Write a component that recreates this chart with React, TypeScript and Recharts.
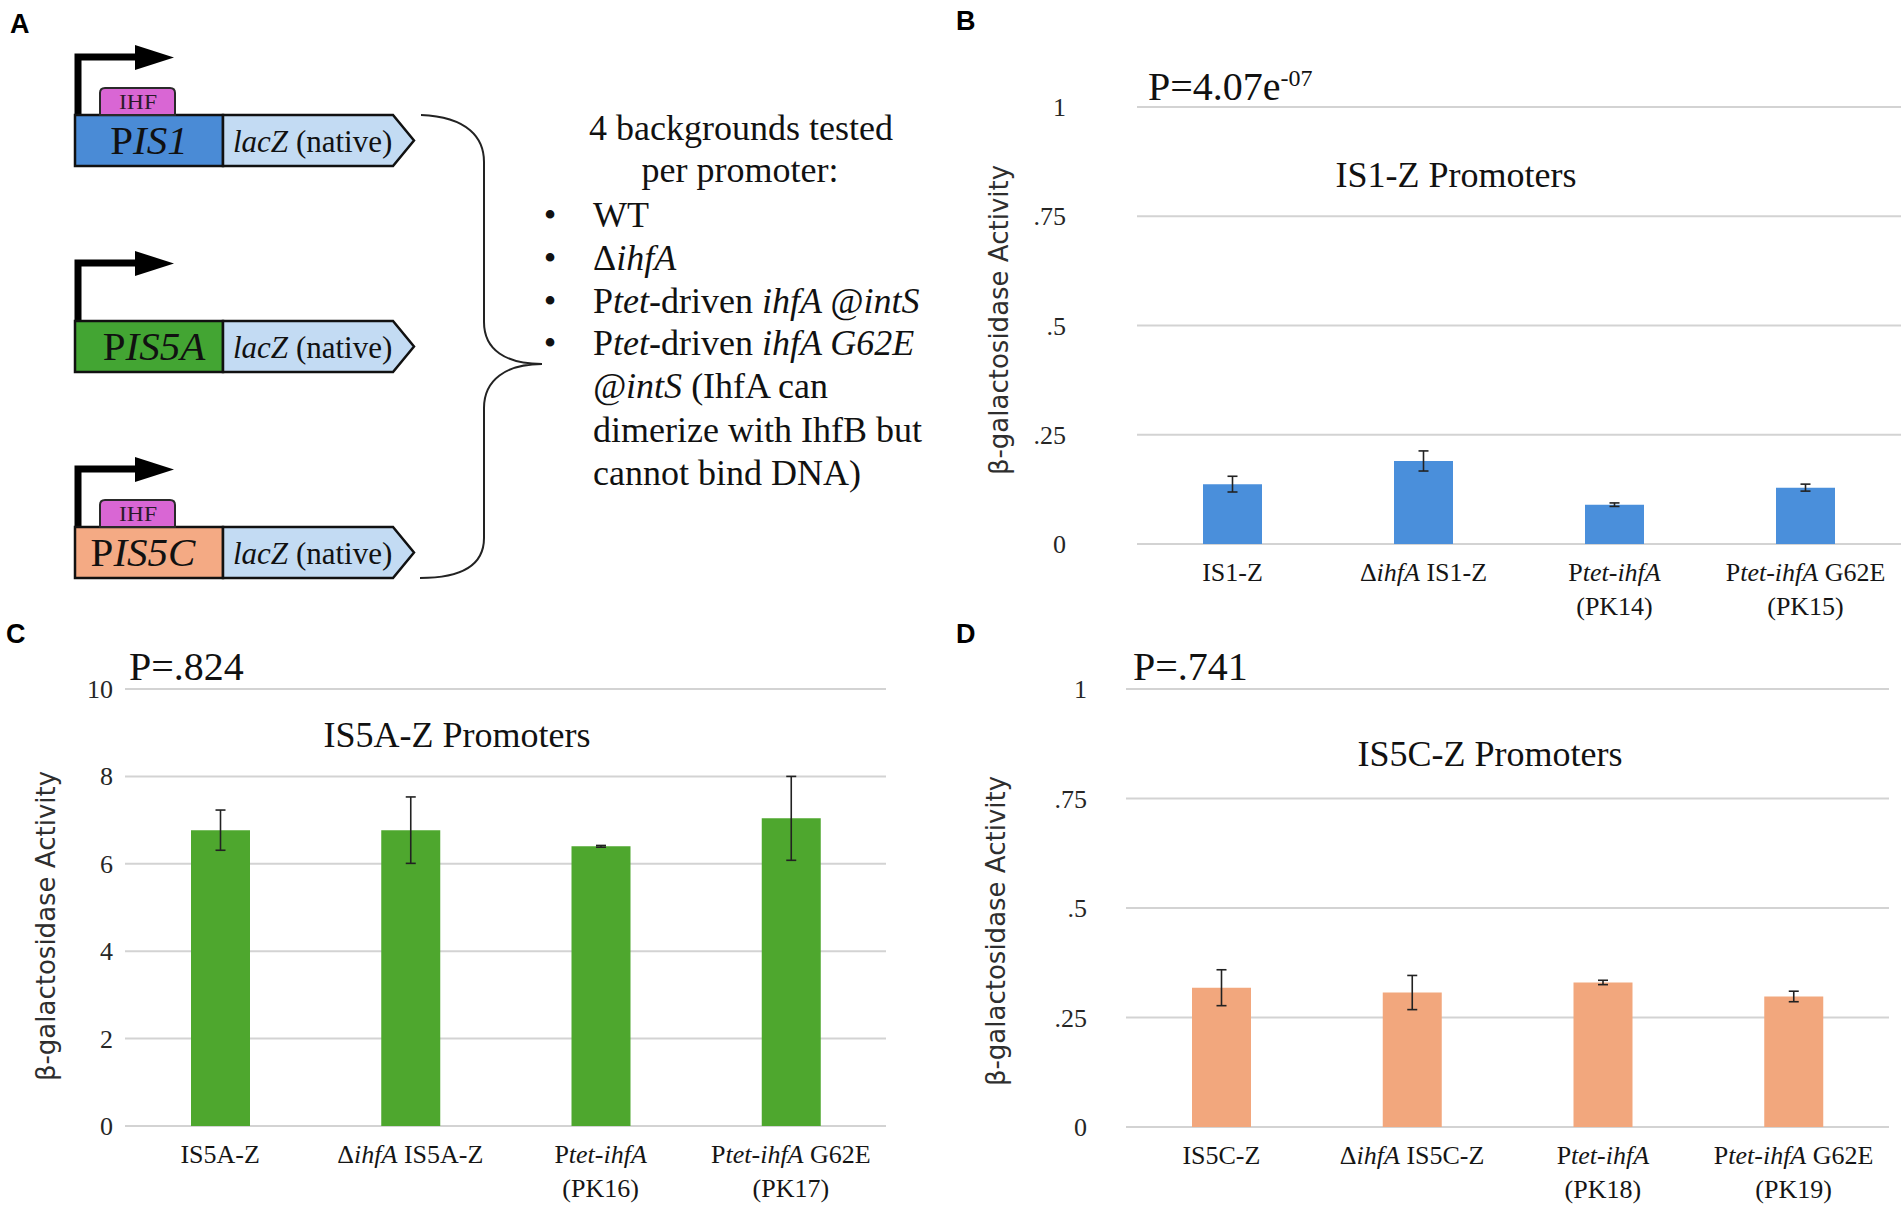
import React from 'react';
import { BarChart, Bar, XAxis, YAxis, CartesianGrid, ErrorBar } from 'recharts';

const SERIF = '"Liberation Serif", "Times New Roman", serif';
const SANS = '"DejaVu Sans", Verdana, sans-serif';
const BOLD_SANS = '"Liberation Sans", Arial, sans-serif';

// ---------- Panel B: IS1-Z ----------
const catsB = ['IS1-Z', 'ΔihfA IS1-Z', 'Ptet-ihfA (PK14)', 'Ptet-ihfA G62E (PK15)'];
const labelsB = [['IS1-Z'], ['Δ_ihfA_ IS1-Z'], ['P_tet-ihfA_', '(PK14)'], ['P_tet-ihfA_ G62E', '(PK15)']];
const meansB = [0.137, 0.19, 0.09, 0.129];
const errsB = [0.018, 0.023, 0.004, 0.008];
const ticksB = [0, 0.25, 0.5, 0.75, 1];
const tickLabelsB = ['0', '.25', '.5', '.75', '1'];

// ---------- Panel C: IS5A-Z ----------
const catsC = ['IS5A-Z', 'ΔihfA IS5A-Z', 'Ptet-ihfA (PK16)', 'Ptet-ihfA G62E (PK17)'];
const labelsC = [['IS5A-Z'], ['Δ_ihfA_ IS5A-Z'], ['P_tet-ihfA_', '(PK16)'], ['P_tet-ihfA_ G62E', '(PK17)']];
const meansC = [6.77, 6.77, 6.4, 7.04];
const errsC = [0.46, 0.76, 0.02, 0.96];
const ticksC = [0, 2, 4, 6, 8, 10];
const tickLabelsC = ['0', '2', '4', '6', '8', '10'];

// ---------- Panel D: IS5C-Z ----------
const catsD = ['IS5C-Z', 'ΔihfA IS5C-Z', 'Ptet-ihfA (PK18)', 'Ptet-ihfA G62E (PK19)'];
const labelsD = [['IS5C-Z'], ['Δ_ihfA_ IS5C-Z'], ['P_tet-ihfA_', '(PK18)'], ['P_tet-ihfA_ G62E', '(PK19)']];
const meansD = [0.318, 0.307, 0.33, 0.298];
const errsD = [0.041, 0.039, 0.005, 0.012];
const ticksD = [0, 0.25, 0.5, 0.75, 1];
const tickLabelsD = ['0', '.25', '.5', '.75', '1'];

const build = (cats: string[], means: number[], errs: number[]) =>
  cats.map((name, i) => ({ name, value: means[i], err: errs[i] }));

const Segs = ({ text }: { text: string }) => (
  <>
    {text.split('_').map((seg, si) => (
      <tspan key={si} fontStyle={si % 2 ? 'italic' : 'normal'}>
        {seg}
      </tspan>
    ))}
  </>
);

const makeXTick = (lines: string[][]) => (props: any) => {
  const { x, y, index } = props;
  const ls = lines[index] || [];
  return (
    <g>
      {ls.map((line, li) => (
        <text
          key={li}
          x={x}
          y={y + 37 + li * 34}
          textAnchor="middle"
          fontFamily={SERIF}
          fontSize={26}
          fill="#151515"
        >
          <Segs text={line} />
        </text>
      ))}
    </g>
  );
};

const makeYTick = (ticks: number[], labels: string[]) => (props: any) => {
  const { x, y, payload } = props;
  const i = ticks.indexOf(payload.value);
  return (
    <text x={x} y={y} dy={9} textAnchor="end" fontFamily={SERIF} fontSize={26} fill="#262626">
      {labels[i]}
    </text>
  );
};

type PanelProps = {
  left: number;
  top: number;
  width: number;
  height: number;
  data: any[];
  ticks: number[];
  tickLabels: string[];
  labels: string[][];
  color: string;
  yWidth: number;
  tickGap: number;
  margin: { top: number; right: number; bottom: number; left: number };
  xHeight: number;
};

const Panel = (p: PanelProps) => (
  <div style={{ position: 'absolute', left: p.left, top: p.top, width: p.width, height: p.height }}>
    <BarChart width={p.width} height={p.height} data={p.data} margin={p.margin}>
      <CartesianGrid vertical={false} stroke="#d3d3d3" strokeWidth={2} />
      <XAxis
        dataKey="name"
        interval={0}
        axisLine={false}
        tickLine={false}
        tickSize={0}
        tickMargin={0}
        height={p.xHeight}
        tick={makeXTick(p.labels)}
      />
      <YAxis
        domain={[p.ticks[0], p.ticks[p.ticks.length - 1]]}
        ticks={p.ticks}
        width={p.yWidth}
        axisLine={false}
        tickLine={false}
        tickSize={0}
        tickMargin={p.tickGap}
        tick={makeYTick(p.ticks, p.tickLabels)}
      />
      <Bar dataKey="value" fill={p.color} barSize={59} isAnimationActive={false}>
        <ErrorBar dataKey="err" width={5} stroke="#222" strokeWidth={1.6} isAnimationActive={false} />
      </Bar>
    </BarChart>
  </div>
);

const ConstructArrow = ({ top }: { top: number }) => (
  <g>
    <path d={`M78,${top} V${top - 58} H140`} fill="none" stroke="#000" strokeWidth={7} />
    <polygon points={`135,${top - 70} 174,${top - 57.5} 135,${top - 45}`} fill="#000" />
  </g>
);

const IHF = ({ top }: { top: number }) => (
  <g>
    <path
      d={`M100,${top} V${top - 22} Q100,${top - 27} 105,${top - 27} H170 Q175,${top - 27} 175,${top - 22} V${top} Z`}
      fill="#d966d4"
      stroke="#2a2a2a"
      strokeWidth={2}
    />
    <text
      x={138}
      y={top - 6}
      textAnchor="middle"
      fontFamily={SERIF}
      fontSize={21}
      fill="#2a1a2a"
      textLength={38}
      lengthAdjust="spacingAndGlyphs"
    >
      IHF
    </text>
  </g>
);

const Construct = ({ top, fill, name, cx }: { top: number; fill: string; name: string; cx: number }) => (
  <g>
    <ConstructArrow top={top} />
    <rect x={75} y={top} width={148} height={51} fill={fill} stroke="#111" strokeWidth={2.5} />
    <polygon
      points={`223,${top} 393,${top} 414,${top + 25.5} 393,${top + 51} 223,${top + 51}`}
      fill="#c3dbf3"
      stroke="#111"
      strokeWidth={2.5}
    />
    <text x={cx} y={top + 39} textAnchor="middle" fontFamily={SERIF} fontSize={41} fill="#111">
      P<tspan fontStyle="italic">{name}</tspan>
    </text>
    <text x={233} y={top + 37} fontFamily={SERIF} fontSize={31} fill="#111">
      <tspan fontStyle="italic">lacZ</tspan> (native)
    </text>
  </g>
);

const PanelA = () => (
  <svg width={950} height={620} style={{ position: 'absolute', left: 0, top: 0 }}>
    <Construct top={115} fill="#4a8bd6" name="IS1" cx={149} />
    <IHF top={115} />
    <Construct top={321} fill="#43a533" name="IS5A" cx={154} />
    <Construct top={527} fill="#f4aa84" name="IS5C" cx={143} />
    <IHF top={527} />
    <path
      d="M421,115 C468,117 484,138 484,162 V322 C484,350 506,364 542,364 C506,364 484,380 484,408 V538 C484,562 466,578 420,578"
      fill="none"
      stroke="#222"
      strokeWidth={2}
    />
    <g fontFamily={SERIF} fontSize={36} fill="#111">
      <text x={741} y={140} textAnchor="middle">4 backgrounds tested</text>
      <text x={740} y={182} textAnchor="middle">per promoter:</text>
      <text x={550} y={227} textAnchor="middle">•</text>
      <text x={550} y={270} textAnchor="middle">•</text>
      <text x={550} y={313} textAnchor="middle">•</text>
      <text x={550} y={355} textAnchor="middle">•</text>
      <text x={593} y={227}>WT</text>
      <text x={593} y={270}>
        Δ<tspan fontStyle="italic">ihfA</tspan>
      </text>
      <text x={593} y={313}>
        P<tspan fontStyle="italic">tet</tspan>-driven <tspan fontStyle="italic">ihfA @intS</tspan>
      </text>
      <text x={593} y={355}>
        P<tspan fontStyle="italic">tet</tspan>-driven <tspan fontStyle="italic">ihfA G62E</tspan>
      </text>
      <text x={593} y={398}>
        <tspan fontStyle="italic">@intS</tspan> (IhfA can
      </text>
      <text x={593} y={442}>dimerize with IhfB but</text>
      <text x={593} y={485}>cannot bind DNA)</text>
    </g>
  </svg>
);

const Overlay = () => (
  <svg width={1902} height={1211} style={{ position: 'absolute', left: 0, top: 0, pointerEvents: 'none' }}>
    <g fontFamily={BOLD_SANS} fontWeight="bold" fontSize={27} fill="#000">
      <text x={10} y={33}>A</text>
      <text x={956} y={30}>B</text>
      <text x={6} y={643}>C</text>
      <text x={956} y={643}>D</text>
    </g>
    <g fontFamily={SERIF} fill="#111">
      <text x={1148} y={100} fontSize={40}>
        P=4.07e<tspan fontSize={24} dy={-14}>-07</tspan>
      </text>
      <text x={129} y={680} fontSize={40}>P=.824</text>
      <text x={1133} y={680} fontSize={40}>P=.741</text>
      <text x={1456} y={187} fontSize={36} textAnchor="middle">IS1-Z Promoters</text>
      <text x={457} y={747} fontSize={36} textAnchor="middle">IS5A-Z Promoters</text>
      <text x={1490} y={766} fontSize={36} textAnchor="middle">IS5C-Z Promoters</text>
    </g>
    <g fontFamily={SANS} fontSize={26} fill="#2e2e2e" textAnchor="middle">
      <text transform="translate(1008,320) rotate(-90)">β-galactosidase Activity</text>
      <text transform="translate(55,926) rotate(-90)">β-galactosidase Activity</text>
      <text transform="translate(1005,931) rotate(-90)">β-galactosidase Activity</text>
    </g>
  </svg>
);

export default function App() {
  return (
    <div
      style={{
        position: 'absolute',
        left: 0,
        top: 0,
        width: 1902,
        height: 1211,
        background: '#fff',
        overflow: 'hidden',
      }}
    >
      <PanelA />
      <Panel
        left={950}
        top={0}
        width={952}
        height={640}
        data={build(catsB, meansB, errsB)}
        ticks={ticksB}
        tickLabels={tickLabelsB}
        labels={labelsB}
        color="#4a8fdb"
        yWidth={187}
        tickGap={71}
        margin={{ top: 107, right: 1, bottom: 0, left: 0 }}
        xHeight={96}
      />
      <Panel
        left={0}
        top={620}
        width={950}
        height={591}
        data={build(catsC, meansC, errsC)}
        ticks={ticksC}
        tickLabels={tickLabelsC}
        labels={labelsC}
        color="#4ea72e"
        yWidth={125}
        tickGap={12}
        margin={{ top: 69, right: 64, bottom: 0, left: 0 }}
        xHeight={85}
      />
      <Panel
        left={950}
        top={620}
        width={952}
        height={591}
        data={build(catsD, meansD, errsD)}
        ticks={ticksD}
        tickLabels={tickLabelsD}
        labels={labelsD}
        color="#f2a77d"
        yWidth={176}
        tickGap={39}
        margin={{ top: 69, right: 13, bottom: 0, left: 0 }}
        xHeight={84}
      />
      <Overlay />
    </div>
  );
}
